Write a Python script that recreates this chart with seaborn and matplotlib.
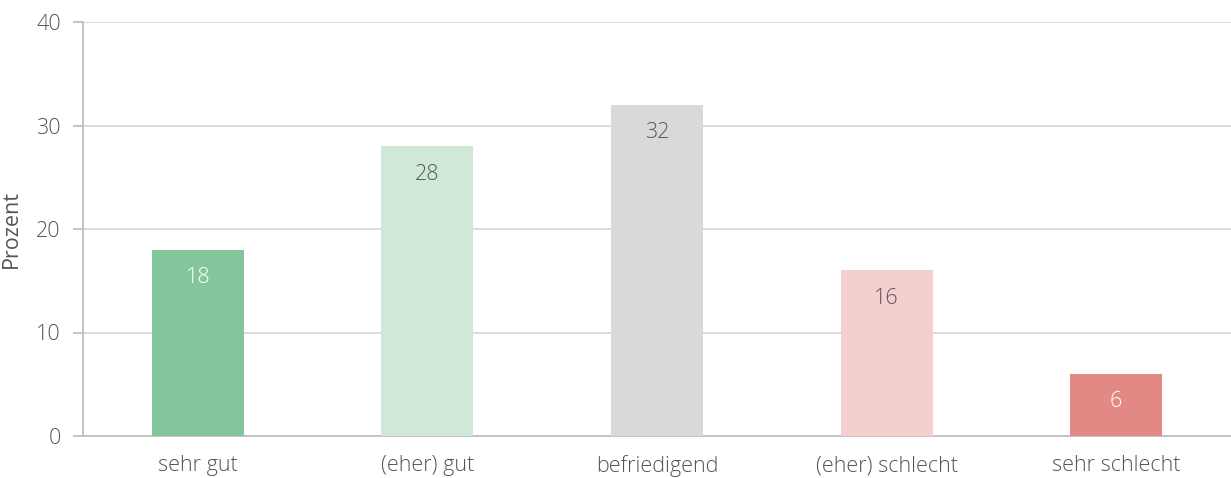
import pandas as pd
import matplotlib.pyplot as plt
import seaborn as sns

# Data
categories = ["sehr gut", "(eher) gut", "befriedigend", "(eher) schlecht", "sehr schlecht"]
values = [18, 28, 32, 16, 6]
bar_colors = ["#84C69C", "#D0E8D8", "#D9D9D9", "#F4CFCE", "#E28985"]
label_colors = ["white", "#595959", "#595959", "#595959", "white"]

df = pd.DataFrame({"Kategorie": categories, "Prozent": values})

sns.set_theme(style="white")
plt.rcParams['font.family'] = ['Open Sans', 'DejaVu Sans']
plt.rcParams['font.weight'] = 'light'
text_color = "#555555"
fs = 15.5

fig = plt.figure(figsize=(12.31, 4.78), dpi=100)
ax = fig.add_axes([83 / 1231, 1 - 436 / 478, 1 - 83 / 1231, (436 - 22) / 478])

sns.barplot(data=df, x="Kategorie", y="Prozent", hue="Kategorie",
            palette=bar_colors, legend=False, width=0.4, saturation=1,
            linewidth=0, ax=ax, zorder=3)

ax.set_xlim(-0.5, len(categories) - 0.5)
ax.set_ylim(0, 40)
ax.set_yticks([0, 10, 20, 30, 40])
ax.yaxis.grid(True, color="#D9D9D9", linewidth=1.3, zorder=0)
ax.set_axisbelow(True)

for s in ["top", "right"]:
    ax.spines[s].set_visible(False)
for s in ["left", "bottom"]:
    ax.spines[s].set_color("#BFBFBF")
    ax.spines[s].set_linewidth(1.3)

# category separators as minor ticks
ax.set_xticks([i - 0.5 for i in range(len(categories) + 1)], minor=True)
ax.tick_params(axis="x", which="major", length=0, pad=14, labelsize=fs, labelcolor=text_color)
ax.tick_params(axis="x", which="minor", length=8, width=1.3, color="#BFBFBF", direction="inout")
ax.tick_params(axis="y", which="major", left=True, length=7, width=1.3, color="#BFBFBF",
               pad=9, labelsize=fs, labelcolor=text_color)

ax.set_xlabel("")
ax.set_ylabel("Prozent", fontsize=fs, color=text_color, labelpad=10)

for patch, v, c in zip(ax.patches, values, label_colors):
    x = patch.get_x() + patch.get_width() / 2
    ax.annotate(str(v), (x, v), xytext=(0, -28), textcoords="offset pixels",
                ha="center", va="center", fontsize=fs, color=c)

fig.savefig("out.png", dpi=100)
